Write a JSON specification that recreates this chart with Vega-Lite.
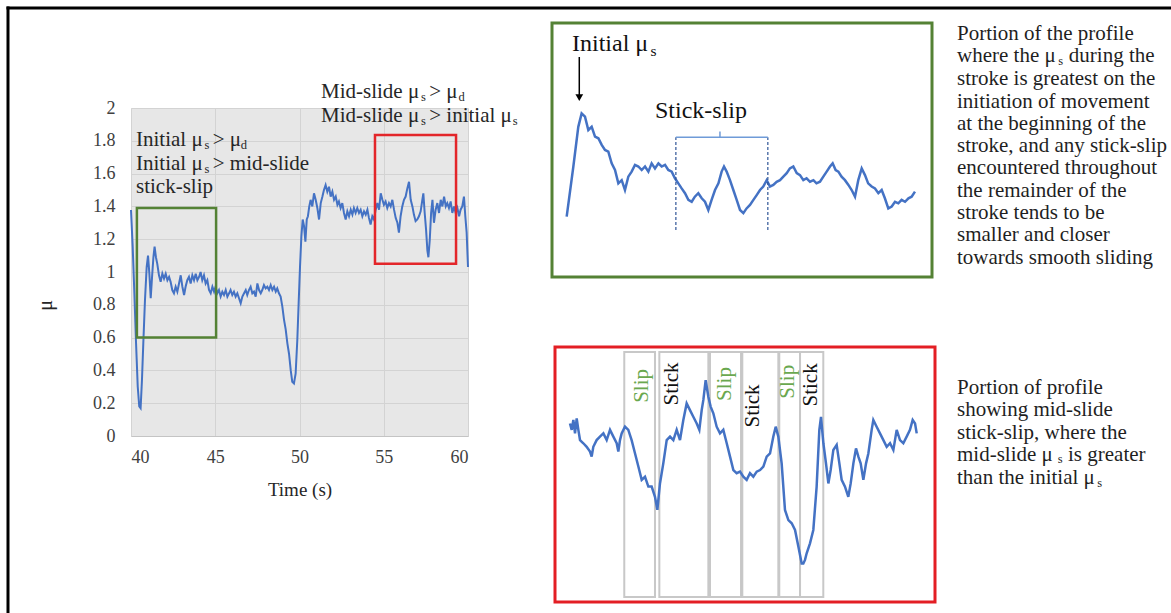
{
"$schema": "https://vega.github.io/schema/vega-lite/v6.json",
"width": 337, "height": 328,
"autosize": {"type": "none"},
"padding": {"left": 131, "top": 108, "right": 703, "bottom": 177},
"background": "#ffffff",
"config": {
  "font": "Liberation Serif",
  "view": {"fill": "#e7e7e7", "stroke": null},
  "axis": {"labelFont": "Liberation Serif", "titleFont": "Liberation Serif", "titleFontWeight": "normal", "labelOverlap": false, "labelSeparation": 0}
},
"datasets": {
  "main": [
{"t":40.0,"mu":1.378},{"t":40.1,"mu":1.155},{"t":40.2,"mu":0.87},{"t":40.3,"mu":0.565},{"t":40.4,"mu":0.3},{"t":40.49,"mu":0.18},{"t":40.57,"mu":0.169},{"t":40.65,"mu":0.34},{"t":40.73,"mu":0.565},{"t":40.83,"mu":0.83},{"t":40.93,"mu":1.03},{"t":41.01,"mu":1.1},{"t":41.09,"mu":0.99},{"t":41.17,"mu":0.84},{"t":41.25,"mu":0.97},{"t":41.33,"mu":1.09},{"t":41.4,"mu":1.155},{"t":41.48,"mu":1.09},{"t":41.56,"mu":1.05},{"t":41.66,"mu":0.98},{"t":41.76,"mu":0.94},{"t":41.86,"mu":0.99},{"t":41.96,"mu":0.96},{"t":42.06,"mu":0.99},{"t":42.16,"mu":0.95},{"t":42.26,"mu":0.97},{"t":42.35,"mu":0.94},{"t":42.45,"mu":0.89},{"t":42.55,"mu":0.87},{"t":42.65,"mu":0.91},{"t":42.75,"mu":0.88},{"t":42.85,"mu":0.93},{"t":42.95,"mu":0.98},{"t":43.05,"mu":0.91},{"t":43.15,"mu":0.86},{"t":43.24,"mu":0.91},{"t":43.34,"mu":0.95},{"t":43.44,"mu":0.97},{"t":43.54,"mu":0.93},{"t":43.64,"mu":0.98},{"t":43.74,"mu":0.95},{"t":43.84,"mu":0.99},{"t":43.94,"mu":0.95},{"t":44.04,"mu":0.97},{"t":44.13,"mu":1.0},{"t":44.23,"mu":0.95},{"t":44.33,"mu":0.98},{"t":44.43,"mu":0.93},{"t":44.53,"mu":0.95},{"t":44.63,"mu":0.89},{"t":44.73,"mu":0.87},{"t":44.83,"mu":0.91},{"t":44.93,"mu":0.88},{"t":45.02,"mu":0.91},{"t":45.12,"mu":0.87},{"t":45.22,"mu":0.89},{"t":45.32,"mu":0.85},{"t":45.42,"mu":0.88},{"t":45.52,"mu":0.86},{"t":45.62,"mu":0.89},{"t":45.72,"mu":0.85},{"t":45.82,"mu":0.87},{"t":45.91,"mu":0.89},{"t":46.01,"mu":0.86},{"t":46.11,"mu":0.88},{"t":46.21,"mu":0.85},{"t":46.31,"mu":0.87},{"t":46.41,"mu":0.84},{"t":46.51,"mu":0.81},{"t":46.61,"mu":0.85},{"t":46.71,"mu":0.87},{"t":46.81,"mu":0.89},{"t":46.9,"mu":0.86},{"t":47.0,"mu":0.89},{"t":47.1,"mu":0.91},{"t":47.2,"mu":0.87},{"t":47.3,"mu":0.88},{"t":47.4,"mu":0.85},{"t":47.5,"mu":0.93},{"t":47.6,"mu":0.89},{"t":47.7,"mu":0.87},{"t":47.79,"mu":0.89},{"t":47.89,"mu":0.92},{"t":47.99,"mu":0.9},{"t":48.09,"mu":0.91},{"t":48.19,"mu":0.89},{"t":48.29,"mu":0.92},{"t":48.39,"mu":0.89},{"t":48.49,"mu":0.91},{"t":48.59,"mu":0.88},{"t":48.68,"mu":0.9},{"t":48.78,"mu":0.87},{"t":48.88,"mu":0.85},{"t":48.98,"mu":0.79},{"t":49.08,"mu":0.71},{"t":49.18,"mu":0.65},{"t":49.28,"mu":0.565},{"t":49.38,"mu":0.5},{"t":49.48,"mu":0.4},{"t":49.57,"mu":0.33},{"t":49.67,"mu":0.32},{"t":49.77,"mu":0.38},{"t":49.87,"mu":0.585},{"t":49.95,"mu":0.81},{"t":50.03,"mu":1.03},{"t":50.11,"mu":1.215},{"t":50.19,"mu":1.32},{"t":50.27,"mu":1.28},{"t":50.35,"mu":1.185},{"t":50.43,"mu":1.32},{"t":50.5,"mu":1.34},{"t":50.58,"mu":1.4},{"t":50.66,"mu":1.44},{"t":50.76,"mu":1.4},{"t":50.86,"mu":1.48},{"t":50.96,"mu":1.44},{"t":51.06,"mu":1.39},{"t":51.16,"mu":1.32},{"t":51.26,"mu":1.42},{"t":51.36,"mu":1.46},{"t":51.45,"mu":1.5},{"t":51.55,"mu":1.53},{"t":51.65,"mu":1.49},{"t":51.75,"mu":1.52},{"t":51.85,"mu":1.46},{"t":51.95,"mu":1.49},{"t":52.05,"mu":1.44},{"t":52.15,"mu":1.46},{"t":52.25,"mu":1.41},{"t":52.34,"mu":1.43},{"t":52.44,"mu":1.39},{"t":52.54,"mu":1.42},{"t":52.64,"mu":1.36},{"t":52.74,"mu":1.32},{"t":52.84,"mu":1.37},{"t":52.94,"mu":1.34},{"t":53.04,"mu":1.38},{"t":53.14,"mu":1.35},{"t":53.23,"mu":1.39},{"t":53.33,"mu":1.36},{"t":53.43,"mu":1.39},{"t":53.53,"mu":1.36},{"t":53.63,"mu":1.38},{"t":53.73,"mu":1.34},{"t":53.83,"mu":1.37},{"t":53.93,"mu":1.35},{"t":54.03,"mu":1.38},{"t":54.12,"mu":1.33},{"t":54.22,"mu":1.29},{"t":54.32,"mu":1.34},{"t":54.42,"mu":1.32},{"t":54.52,"mu":1.38},{"t":54.62,"mu":1.42},{"t":54.72,"mu":1.38},{"t":54.82,"mu":1.48},{"t":54.92,"mu":1.44},{"t":55.01,"mu":1.41},{"t":55.11,"mu":1.43},{"t":55.21,"mu":1.39},{"t":55.31,"mu":1.42},{"t":55.41,"mu":1.4},{"t":55.51,"mu":1.44},{"t":55.61,"mu":1.38},{"t":55.71,"mu":1.33},{"t":55.81,"mu":1.3},{"t":55.9,"mu":1.24},{"t":56.0,"mu":1.34},{"t":56.1,"mu":1.4},{"t":56.2,"mu":1.44},{"t":56.3,"mu":1.46},{"t":56.4,"mu":1.51},{"t":56.5,"mu":1.55},{"t":56.6,"mu":1.44},{"t":56.7,"mu":1.4},{"t":56.79,"mu":1.35},{"t":56.89,"mu":1.31},{"t":56.99,"mu":1.32},{"t":57.09,"mu":1.34},{"t":57.19,"mu":1.37},{"t":57.29,"mu":1.44},{"t":57.35,"mu":1.48},{"t":57.43,"mu":1.36},{"t":57.51,"mu":1.26},{"t":57.59,"mu":1.13},{"t":57.65,"mu":1.09},{"t":57.73,"mu":1.195},{"t":57.81,"mu":1.36},{"t":57.89,"mu":1.44},{"t":57.98,"mu":1.3},{"t":58.08,"mu":1.38},{"t":58.18,"mu":1.42},{"t":58.28,"mu":1.36},{"t":58.38,"mu":1.44},{"t":58.48,"mu":1.4},{"t":58.58,"mu":1.46},{"t":58.68,"mu":1.4},{"t":58.77,"mu":1.42},{"t":58.87,"mu":1.39},{"t":58.97,"mu":1.43},{"t":59.07,"mu":1.36},{"t":59.17,"mu":1.4},{"t":59.27,"mu":1.36},{"t":59.37,"mu":1.39},{"t":59.47,"mu":1.34},{"t":59.56,"mu":1.38},{"t":59.66,"mu":1.4},{"t":59.76,"mu":1.46},{"t":59.84,"mu":1.34},{"t":59.92,"mu":1.24},{"t":60.0,"mu":1.03}
  ],
  "mainBoxes": [
    {"box": "green", "t": 40.35, "t2": 45.05, "mu": 0.6, "mu2": 1.39},
    {"box": "red", "t": 54.48, "t2": 59.29, "mu": 1.05, "mu2": 1.835}
  ],
  "mainText": [
    {"t": 40.297, "mu": 1.7713, "text": "Initial μ"},
    {"t": 44.85, "mu": 1.7713, "text": "> μ"},
    {"t": 40.297, "mu": 1.625, "text": "Initial μ"},
    {"t": 44.85, "mu": 1.625, "text": "> mid-slide"},
    {"t": 40.297, "mu": 1.4787, "text": "stick-slip"},
    {"t": 51.276, "mu": 2.061, "text": "Mid-slide μ"},
    {"t": 57.7, "mu": 2.061, "text": "> μ"},
    {"t": 51.276, "mu": 1.916, "text": "Mid-slide μ"},
    {"t": 57.7, "mu": 1.916, "text": "> initial μ"}
  ],
  "mainSub": [
    {"t": 44.36, "mu": 1.7713, "text": "s"},
    {"t": 46.51, "mu": 1.7713, "text": "d"},
    {"t": 44.36, "mu": 1.625, "text": "s"},
    {"t": 57.21, "mu": 2.061, "text": "s"},
    {"t": 59.44, "mu": 2.061, "text": "d"},
    {"t": 57.21, "mu": 1.916, "text": "s"},
    {"t": 62.66, "mu": 1.916, "text": "s"}
  ],
  "frame": [
    {"t": 32.7, "t2": 101.72, "mu": 2.6098, "mu2": 2.6098},
    {"t": 32.7, "t2": 32.7, "mu": 2.6098, "mu2": -1.079}
  ],
  "greenLine": [
{"t":40.193,"mu":0.79},{"t":40.281,"mu":0.948},{"t":40.346,"mu":1.073},{"t":40.39,"mu":1.115},{"t":40.434,"mu":1.105},{"t":40.478,"mu":1.063},{"t":40.522,"mu":1.073},{"t":40.566,"mu":1.042},{"t":40.61,"mu":1.037},{"t":40.654,"mu":1.016},{"t":40.697,"mu":1.0},{"t":40.741,"mu":0.995},{"t":40.785,"mu":0.958},{"t":40.829,"mu":0.937},{"t":40.873,"mu":0.895},{"t":40.917,"mu":0.905},{"t":40.96,"mu":0.874},{"t":41.004,"mu":0.916},{"t":41.048,"mu":0.932},{"t":41.092,"mu":0.953},{"t":41.136,"mu":0.948},{"t":41.18,"mu":0.937},{"t":41.224,"mu":0.948},{"t":41.268,"mu":0.932},{"t":41.311,"mu":0.958},{"t":41.355,"mu":0.942},{"t":41.4,"mu":0.958},{"t":41.443,"mu":0.948},{"t":41.487,"mu":0.953},{"t":41.53,"mu":0.937},{"t":41.575,"mu":0.932},{"t":41.618,"mu":0.911},{"t":41.662,"mu":0.895},{"t":41.706,"mu":0.879},{"t":41.75,"mu":0.864},{"t":41.794,"mu":0.843},{"t":41.838,"mu":0.837},{"t":41.88,"mu":0.853},{"t":41.925,"mu":0.864},{"t":41.97,"mu":0.848},{"t":42.013,"mu":0.837},{"t":42.057,"mu":0.811},{"t":42.1,"mu":0.843},{"t":42.145,"mu":0.874},{"t":42.19,"mu":0.895},{"t":42.232,"mu":0.932},{"t":42.263,"mu":0.948},{"t":42.298,"mu":0.932},{"t":42.342,"mu":0.905},{"t":42.386,"mu":0.874},{"t":42.43,"mu":0.843},{"t":42.474,"mu":0.811},{"t":42.518,"mu":0.801},{"t":42.56,"mu":0.816},{"t":42.605,"mu":0.827},{"t":42.65,"mu":0.843},{"t":42.693,"mu":0.858},{"t":42.737,"mu":0.874},{"t":42.78,"mu":0.885},{"t":42.825,"mu":0.905},{"t":42.868,"mu":0.885},{"t":42.912,"mu":0.89},{"t":42.956,"mu":0.9},{"t":43.0,"mu":0.905},{"t":43.044,"mu":0.916},{"t":43.088,"mu":0.927},{"t":43.13,"mu":0.942},{"t":43.175,"mu":0.948},{"t":43.22,"mu":0.927},{"t":43.263,"mu":0.921},{"t":43.307,"mu":0.905},{"t":43.35,"mu":0.911},{"t":43.395,"mu":0.9},{"t":43.44,"mu":0.905},{"t":43.48,"mu":0.895},{"t":43.526,"mu":0.9},{"t":43.57,"mu":0.916},{"t":43.614,"mu":0.932},{"t":43.658,"mu":0.948},{"t":43.693,"mu":0.958},{"t":43.732,"mu":0.937},{"t":43.768,"mu":0.932},{"t":43.81,"mu":0.916},{"t":43.855,"mu":0.905},{"t":43.9,"mu":0.89},{"t":43.943,"mu":0.874},{"t":43.987,"mu":0.853},{"t":44.03,"mu":0.905},{"t":44.075,"mu":0.942},{"t":44.118,"mu":0.921},{"t":44.16,"mu":0.895},{"t":44.206,"mu":0.885},{"t":44.25,"mu":0.879},{"t":44.294,"mu":0.864},{"t":44.338,"mu":0.874},{"t":44.38,"mu":0.848},{"t":44.425,"mu":0.816},{"t":44.47,"mu":0.822},{"t":44.513,"mu":0.837},{"t":44.557,"mu":0.832},{"t":44.6,"mu":0.843},{"t":44.645,"mu":0.837},{"t":44.69,"mu":0.848},{"t":44.732,"mu":0.853},{"t":44.776,"mu":0.869}
  ],
  "greenBox": [{"t": 40, "t2": 45, "mu": 0.6, "mu2": 1.4}],
  "greenDash": [{"t": 41.63, "mu": 0.748, "mu2": 1.04}, {"t": 42.84, "mu": 0.748, "mu2": 1.04}],
  "greenBracket": [{"t": 41.63, "t2": 42.84, "mu": 1.04, "mu2": 1.04}, {"t": 42.21, "t2": 42.21, "mu": 1.04, "mu2": 1.058}],
  "greenArrow": [{"t": 40.359, "t2": 40.359, "mu": 1.293, "mu2": 1.173}],
  "greenArrowHead": [{"t": 40.359, "mu": 1.165}],
  "greenLabels": [
    {"t": 40.263, "mu": 1.312, "text": "Initial μ"},
    {"t": 41.355, "mu": 1.101, "text": "Stick-slip"}
  ],
  "greenSub": [{"t": 41.295, "mu": 1.312, "text": "s"}],
  "greenNote": [
    {"t": 45.329, "mu": 1.3465, "text": "Portion of the profile"},
    {"t": 45.329, "mu": 1.2762, "text": "where the μ"},
    {"t": 46.8, "mu": 1.2762, "text": "during the"},
    {"t": 45.329, "mu": 1.2038, "text": "stroke is greatest on the\ninitiation of movement\nat the beginning of the\nstroke, and any stick-slip\nencountered throughout\nthe remainder of the\nstroke tends to be\nsmaller and closer\ntowards smooth sliding"}
  ],
  "greenNoteSub": [{"t": 46.66, "mu": 1.2762, "text": "s"}],
  "redLine": [
{"t":54.689,"mu":1.61},{"t":54.711,"mu":1.59},{"t":54.732,"mu":1.621},{"t":54.753,"mu":1.579},{"t":54.774,"mu":1.626},{"t":54.795,"mu":1.59},{"t":54.816,"mu":1.558},{"t":54.858,"mu":1.548},{"t":54.9,"mu":1.537},{"t":54.942,"mu":1.522},{"t":54.963,"mu":1.506},{"t":54.984,"mu":1.537},{"t":55.026,"mu":1.558},{"t":55.068,"mu":1.569},{"t":55.111,"mu":1.579},{"t":55.153,"mu":1.558},{"t":55.195,"mu":1.59},{"t":55.237,"mu":1.569},{"t":55.279,"mu":1.548},{"t":55.3,"mu":1.522},{"t":55.321,"mu":1.558},{"t":55.342,"mu":1.579},{"t":55.384,"mu":1.6},{"t":55.426,"mu":1.59},{"t":55.468,"mu":1.558},{"t":55.511,"mu":1.516},{"t":55.553,"mu":1.475},{"t":55.595,"mu":1.433},{"t":55.637,"mu":1.443},{"t":55.679,"mu":1.412},{"t":55.721,"mu":1.412},{"t":55.763,"mu":1.38},{"t":55.793,"mu":1.339},{"t":55.826,"mu":1.422},{"t":55.868,"mu":1.485},{"t":55.911,"mu":1.558},{"t":55.953,"mu":1.569},{"t":55.995,"mu":1.558},{"t":56.037,"mu":1.59},{"t":56.079,"mu":1.558},{"t":56.121,"mu":1.621},{"t":56.163,"mu":1.673},{"t":56.205,"mu":1.652},{"t":56.247,"mu":1.631},{"t":56.29,"mu":1.61},{"t":56.323,"mu":1.59},{"t":56.353,"mu":1.652},{"t":56.374,"mu":1.684},{"t":56.403,"mu":1.746},{"t":56.437,"mu":1.694},{"t":56.466,"mu":1.663},{"t":56.5,"mu":1.642},{"t":56.542,"mu":1.6},{"t":56.584,"mu":1.579},{"t":56.626,"mu":1.59},{"t":56.669,"mu":1.548},{"t":56.711,"mu":1.506},{"t":56.753,"mu":1.464},{"t":56.795,"mu":1.454},{"t":56.837,"mu":1.459},{"t":56.879,"mu":1.443},{"t":56.921,"mu":1.433},{"t":56.963,"mu":1.454},{"t":57.005,"mu":1.443},{"t":57.048,"mu":1.459},{"t":57.09,"mu":1.464},{"t":57.132,"mu":1.475},{"t":57.174,"mu":1.506},{"t":57.216,"mu":1.516},{"t":57.258,"mu":1.569},{"t":57.288,"mu":1.6},{"t":57.321,"mu":1.569},{"t":57.363,"mu":1.485},{"t":57.405,"mu":1.339},{"t":57.448,"mu":1.307},{"t":57.49,"mu":1.297},{"t":57.532,"mu":1.276},{"t":57.574,"mu":1.224},{"t":57.616,"mu":1.171},{"t":57.637,"mu":1.171},{"t":57.658,"mu":1.182},{"t":57.679,"mu":1.203},{"t":57.721,"mu":1.234},{"t":57.763,"mu":1.276},{"t":57.805,"mu":1.412},{"t":57.839,"mu":1.59},{"t":57.86,"mu":1.631},{"t":57.89,"mu":1.548},{"t":57.923,"mu":1.485},{"t":57.953,"mu":1.422},{"t":57.982,"mu":1.464},{"t":58.016,"mu":1.527},{"t":58.058,"mu":1.543},{"t":58.092,"mu":1.485},{"t":58.121,"mu":1.433},{"t":58.163,"mu":1.412},{"t":58.205,"mu":1.38},{"t":58.235,"mu":1.422},{"t":58.269,"mu":1.485},{"t":58.302,"mu":1.532},{"t":58.332,"mu":1.506},{"t":58.361,"mu":1.485},{"t":58.395,"mu":1.433},{"t":58.429,"mu":1.485},{"t":58.458,"mu":1.516},{"t":58.5,"mu":1.59},{"t":58.521,"mu":1.621},{"t":58.563,"mu":1.6},{"t":58.605,"mu":1.579},{"t":58.648,"mu":1.558},{"t":58.69,"mu":1.537},{"t":58.732,"mu":1.548},{"t":58.774,"mu":1.527},{"t":58.816,"mu":1.59},{"t":58.858,"mu":1.558},{"t":58.9,"mu":1.548},{"t":58.942,"mu":1.569},{"t":58.984,"mu":1.59},{"t":59.018,"mu":1.621},{"t":59.048,"mu":1.61},{"t":59.069,"mu":1.579}
  ],
  "redBox": [{"t": 54.5, "t2": 59.3, "mu": 1.05, "mu2": 1.85}],
  "redBands": [
    {"t": 55.375, "t2": 55.763, "mu": 1.066, "mu2": 1.834},
    {"t": 55.818, "t2": 56.437, "mu": 1.066, "mu2": 1.834},
    {"t": 56.458, "t2": 56.85, "mu": 1.066, "mu2": 1.834},
    {"t": 56.866, "t2": 57.321, "mu": 1.066, "mu2": 1.834},
    {"t": 57.333, "t2": 57.595, "mu": 1.066, "mu2": 1.834},
    {"t": 57.595, "t2": 57.889, "mu": 1.066, "mu2": 1.834}
  ],
  "redLabels": [
    {"t": 55.595, "mu": 1.728, "text": "Slip", "kind": "Slip"},
    {"t": 55.974, "mu": 1.734, "text": "Stick", "kind": "Stick"},
    {"t": 56.647, "mu": 1.734, "text": "Slip", "kind": "Slip"},
    {"t": 57.001, "mu": 1.665, "text": "Stick", "kind": "Stick"},
    {"t": 57.443, "mu": 1.741, "text": "Slip", "kind": "Slip"},
    {"t": 57.73, "mu": 1.731, "text": "Stick", "kind": "Stick"}
  ],
  "redNote": [
    {"t": 59.578, "mu": 1.7025, "text": "Portion of profile\nshowing mid-slide\nstick-slip, where the"},
    {"t": 59.578, "mu": 1.4926, "text": "mid-slide μ"},
    {"t": 60.98, "mu": 1.4926, "text": "is greater"},
    {"t": 59.578, "mu": 1.4195, "text": "than the initial μ"}
  ],
  "redNoteSub": [{"t": 60.85, "mu": 1.4926, "text": "s"}, {"t": 61.35, "mu": 1.4195, "text": "s"}]
},
"resolve": {"scale": {"x": "independent", "y": "independent"}},
"layer": [
  {
    "encoding": {
      "x": {"field": "t", "type": "quantitative", "title": "Time (s)",
            "scale": {"domain": [40, 60], "nice": false, "zero": false},
            "axis": {"values": [40, 45, 50, 55, 60], "labelOverlap": false, "grid": true, "gridColor": "#d3d3d3", "domain": true, "domainColor": "#c4c4c4", "ticks": false, "labelFontSize": 18, "labelColor": "#404040", "labelPadding": 12, "titleFontSize": 19, "titleColor": "#262626", "titlePadding": 14}},
      "y": {"field": "mu", "type": "quantitative", "title": "μ",
            "scale": {"domain": [0, 2], "nice": false, "zero": false},
            "axis": {"values": [0, 0.2, 0.4, 0.6, 0.8, 1, 1.2, 1.4, 1.6, 1.8, 2], "labelOverlap": false, "labelSeparation": 0, "format": "~g", "grid": true, "gridColor": "#d3d3d3", "domain": false, "ticks": false, "labelFontSize": 18, "labelColor": "#404040", "labelPadding": 16, "titleFontSize": 20, "titleColor": "#262626", "titleX": -86, "titleY": 197, "titleAngle": 270, "titleAlign": "center", "titleBaseline": "middle"}}
    },
    "layer": [
      {
        "data": {"name": "main"},
        "mark": {"type": "line", "color": "#4472c4", "strokeWidth": 2}
      },
      {
        "data": {"name": "mainBoxes"},
        "mark": {"type": "rect", "filled": false, "strokeWidth": 2.5},
        "encoding": {
          "x2": {"field": "t2"},
          "y2": {"field": "mu2"},
          "stroke": {"field": "box", "type": "nominal", "scale": {"domain": ["green", "red"], "range": ["#548235", "#e3262a"]}, "legend": null}
        }
      },
      {
        "data": {"name": "mainText"},
        "mark": {"type": "text", "align": "left", "baseline": "alphabetic", "fontSize": 21, "color": "#262626"},
        "encoding": {"text": {"field": "text"}}
      },
      {
        "data": {"name": "mainSub"},
        "mark": {"type": "text", "align": "left", "baseline": "alphabetic", "fontSize": 12.5, "dy": 3, "color": "#262626"},
        "encoding": {"text": {"field": "text"}}
      },
      {
        "data": {"name": "frame"},
        "mark": {"type": "rule", "color": "#000000", "strokeWidth": 3, "strokeCap": "square"},
        "encoding": {"x2": {"field": "t2"}, "y2": {"field": "mu2"}}
      }
    ]
  },
  {
    "encoding": {
      "x": {"field": "t", "type": "quantitative", "axis": null, "scale": {"domain": [40, 45], "range": [421, 801], "nice": false, "zero": false}},
      "y": {"field": "mu", "type": "quantitative", "axis": null, "scale": {"domain": [0.6, 1.4], "range": [169, -85], "nice": false, "zero": false}}
    },
    "layer": [
      {
        "data": {"name": "greenLine"},
        "mark": {"type": "line", "color": "#4472c4", "strokeWidth": 2.5}
      },
      {
        "data": {"name": "greenBox"},
        "mark": {"type": "rect", "filled": false, "color": "#548235", "strokeWidth": 3},
        "encoding": {"x2": {"field": "t2"}, "y2": {"field": "mu2"}}
      },
      {
        "data": {"name": "greenDash"},
        "mark": {"type": "rule", "color": "#2f5597", "strokeWidth": 1.2, "strokeDash": [3, 2]},
        "encoding": {"y2": {"field": "mu2"}}
      },
      {
        "data": {"name": "greenBracket"},
        "mark": {"type": "rule", "color": "#6f9bd8", "strokeWidth": 1.5},
        "encoding": {"x2": {"field": "t2"}, "y2": {"field": "mu2"}}
      },
      {
        "data": {"name": "greenArrow"},
        "mark": {"type": "rule", "color": "#000000", "strokeWidth": 1.5},
        "encoding": {"x2": {"field": "t2"}, "y2": {"field": "mu2"}}
      },
      {
        "data": {"name": "greenArrowHead"},
        "mark": {"type": "point", "shape": "triangle-down", "filled": true, "color": "#000000", "size": 60, "opacity": 1}
      },
      {
        "data": {"name": "greenLabels"},
        "mark": {"type": "text", "align": "left", "baseline": "alphabetic", "fontSize": 24, "color": "#111111"},
        "encoding": {"text": {"field": "text"}}
      },
      {
        "data": {"name": "greenSub"},
        "mark": {"type": "text", "align": "left", "baseline": "alphabetic", "fontSize": 15.5, "dy": 5, "color": "#111111"},
        "encoding": {"text": {"field": "text"}}
      },
      {
        "data": {"name": "greenNote"},
        "mark": {"type": "text", "align": "left", "baseline": "alphabetic", "fontSize": 21, "lineHeight": 22.3, "lineBreak": "\n", "color": "#1f1f1f"},
        "encoding": {"text": {"field": "text"}}
      },
      {
        "data": {"name": "greenNoteSub"},
        "mark": {"type": "text", "align": "left", "baseline": "alphabetic", "fontSize": 12.5, "dy": 2.5, "color": "#1f1f1f"},
        "encoding": {"text": {"field": "text"}}
      }
    ]
  },
  {
    "encoding": {
      "x": {"field": "t", "type": "quantitative", "axis": null, "scale": {"domain": [54.5, 59.3], "range": [424, 804], "nice": false, "zero": false}},
      "y": {"field": "mu", "type": "quantitative", "axis": null, "scale": {"domain": [1.05, 1.85], "range": [494, 239], "nice": false, "zero": false}}
    },
    "layer": [
      {
        "data": {"name": "redBands"},
        "mark": {"type": "rect", "filled": false, "color": "#c8c8c8", "strokeWidth": 2},
        "encoding": {"x2": {"field": "t2"}, "y2": {"field": "mu2"}}
      },
      {
        "data": {"name": "redLine"},
        "mark": {"type": "line", "color": "#4472c4", "strokeWidth": 2.5}
      },
      {
        "data": {"name": "redBox"},
        "mark": {"type": "rect", "filled": false, "color": "#e31e24", "strokeWidth": 3},
        "encoding": {"x2": {"field": "t2"}, "y2": {"field": "mu2"}}
      },
      {
        "data": {"name": "redLabels"},
        "mark": {"type": "text", "align": "center", "baseline": "middle", "angle": 270, "fontSize": 21},
        "encoding": {
          "text": {"field": "text"},
          "color": {"field": "kind", "type": "nominal", "scale": {"domain": ["Slip", "Stick"], "range": ["#6aa84f", "#111111"]}, "legend": null}
        }
      },
      {
        "data": {"name": "redNote"},
        "mark": {"type": "text", "align": "left", "baseline": "alphabetic", "fontSize": 21, "lineHeight": 22.3, "lineBreak": "\n", "color": "#1f1f1f"},
        "encoding": {"text": {"field": "text"}}
      },
      {
        "data": {"name": "redNoteSub"},
        "mark": {"type": "text", "align": "left", "baseline": "alphabetic", "fontSize": 12.5, "dy": 2.5, "color": "#1f1f1f"},
        "encoding": {"text": {"field": "text"}}
      }
    ]
  }
]
}
